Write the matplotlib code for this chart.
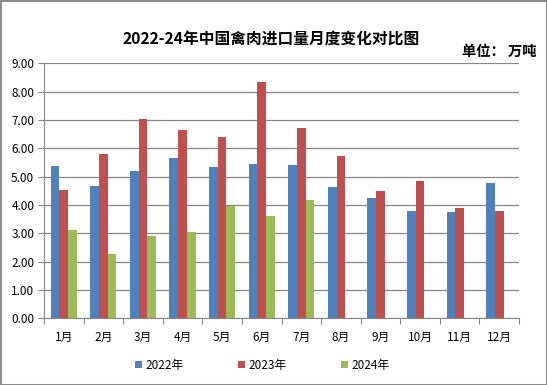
import matplotlib.pyplot as plt
import numpy as np
from matplotlib.patches import Rectangle

plt.rcParams['font.family'] = ['Noto Sans CJK SC', 'DejaVu Sans']

months = ['1月', '2月', '3月', '4月', '5月', '6月', '7月', '8月', '9月', '10月', '11月', '12月']
y2022 = [5.38, 4.67, 5.20, 5.66, 5.35, 5.45, 5.41, 4.64, 4.25, 3.79, 3.75, 4.78]
y2023 = [4.53, 5.80, 7.04, 6.65, 6.40, 8.34, 6.72, 5.73, 4.49, 4.85, 3.89, 3.79]
y2024 = [3.12, 2.27, 2.91, 3.05, 3.98, 3.61, 4.16]
series_names = ['2022年', '2023年', '2024年']
colors = ['#4F81BD', '#C0504D', '#9BBB59']

W, H = 547, 385
fig = plt.figure(figsize=(W / 100, H / 100), dpi=100)
ax = fig.add_axes([44 / W, 66.7 / H, 475 / W, 255 / H])

x = np.arange(len(months))
bw = 0.22
for i, (vals, c, name) in enumerate(zip([y2022, y2023, y2024], colors, series_names)):
    xs = x[:len(vals)] + (i - 1) * bw
    ax.bar(xs, vals, width=bw, color=c, label=name, zorder=3)

ax.set_xlim(-0.5, len(months) - 0.5)
ax.set_ylim(0, 9)
ax.set_yticks(np.arange(0, 9.01, 1))
ax.set_yticklabels([f'{v:.2f}' for v in np.arange(0, 9.01, 1)], fontsize=8.5)
ax.yaxis.grid(True, color='#868686', linewidth=0.9, zorder=0)

# category boundary ticks, labels centred between them
ax.set_xticks(np.arange(-0.5, len(months)), minor=False)
ax.set_xticklabels([])
ax.set_xticks(x, minor=True)
ax.set_xticklabels(months, minor=True, fontsize=8.5)
ax.tick_params(axis='x', which='major', length=4, color='#868686', direction='out')
ax.tick_params(axis='x', which='minor', length=0, pad=9)
ax.tick_params(axis='y', length=4, color='#868686', pad=3)

for side in ['top', 'right']:
    ax.spines[side].set_visible(False)
for side in ['left', 'bottom']:
    ax.spines[side].set_color('#868686')

fig.text(271 / W, 1 - 40 / H, '2022-24年中国禽肉进口量月度变化对比图', ha='center', va='center',
         fontsize=11.3, fontweight='bold')
fig.text(537 / W, 1 - 52 / H, '单位： 万吨', ha='right', va='center', fontsize=10.3, fontweight='bold')

handles, labels = ax.get_legend_handles_labels()
fig.legend(handles, labels, loc='center', bbox_to_anchor=(262 / W, 1 - 365 / H), ncol=3,
           frameon=False, fontsize=8.5, handlelength=0.6, handleheight=0.6,
           handletextpad=0.3, columnspacing=4.6)

fig.patches.append(Rectangle((0.5 / W, 0.5 / H), 1 - 1 / W, 1 - 1 / H, transform=fig.transFigure,
                             fill=False, edgecolor='#8c8c8c', linewidth=1.5))

plt.savefig('out.png', dpi=100)
plt.close()
